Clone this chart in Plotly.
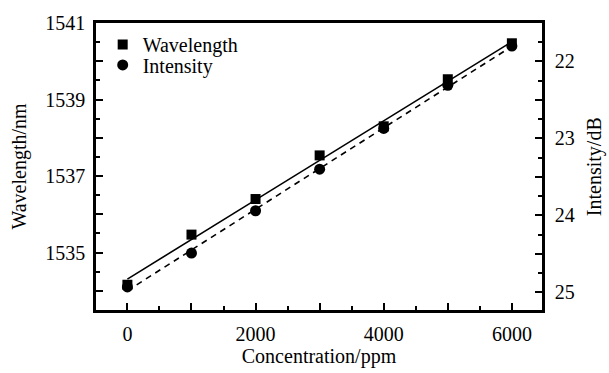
import numpy as np
import plotly.graph_objects as go

concentration = [0, 1000, 2000, 3000, 4000, 5000, 6000]
wavelength = [1534.16, 1535.47, 1536.40, 1537.54, 1538.30, 1539.53, 1540.47]
intensity = [24.93, 24.49, 23.94, 23.40, 22.87, 22.31, 21.80]

x_tickvals = [0, 1000, 2000, 3000, 4000, 5000, 6000]
x_ticktext = ["0", "", "2000", "", "4000", "", "6000"]
y_tickvals = [1534, 1535, 1536, 1537, 1538, 1539, 1540, 1541]
y_ticktext = ["", "1535", "", "1537", "", "1539", "", "1541"]
y2_tickvals = [22, 22.5, 23, 23.5, 24, 24.5, 25]
y2_ticktext = ["22", "", "23", "", "24", "", "25"]

# linear fits drawn as lines
xw = np.array(concentration, dtype=float)
pw = np.polyfit(xw, np.array(wavelength), 1)
pi = np.polyfit(xw, np.array(intensity), 1)
xfit = np.array([concentration[0], concentration[-1]], dtype=float)

FONT = "Liberation Serif"
fig = go.Figure()

fig.add_trace(go.Scatter(x=xfit, y=np.polyval(pw, xfit), mode="lines",
                         line=dict(color="black", width=1.6), showlegend=False, yaxis="y"))
fig.add_trace(go.Scatter(x=concentration, y=wavelength, mode="markers", name="Wavelength",
                         marker=dict(symbol="square", size=10, color="black"), yaxis="y",
                         legend="legend"))
fig.add_trace(go.Scatter(x=xfit, y=np.polyval(pi, xfit), mode="lines",
                         line=dict(color="black", width=1.6, dash="6px,5px"), showlegend=False, yaxis="y2"))
fig.add_trace(go.Scatter(x=concentration, y=intensity, mode="markers", name="Intensity",
                         marker=dict(symbol="circle", size=11, color="black"), yaxis="y2",
                         legend="legend2"))

axis_common = dict(showline=True, linecolor="black", linewidth=2.5, ticks="inside",
                   tickwidth=2, tickcolor="black", ticklen=7, showgrid=False, zeroline=False,
                   tickfont=dict(family=FONT, size=20, color="black"))

leg_common = dict(xanchor="left", yanchor="middle", bgcolor="rgba(0,0,0,0)",
                  font=dict(family=FONT, size=20, color="black"), itemwidth=30)

fig.update_layout(
    width=609, height=373,
    margin=dict(l=96, r=67, t=19, b=59),
    paper_bgcolor="white", plot_bgcolor="white",
    font=dict(family=FONT, size=20, color="black"),
    xaxis=dict(range=[-490, 6470], tickmode="array", tickvals=x_tickvals, ticktext=x_ticktext,
               minor=dict(dtick=500, ticks="inside", ticklen=4, tickwidth=2, tickcolor="black"),
               mirror=True, ticklabelstandoff=4,
               title=dict(text="Concentration/ppm", font=dict(family=FONT, size=20), standoff=2),
               **axis_common),
    yaxis=dict(range=[1533.5, 1541], tickmode="array", tickvals=y_tickvals, ticktext=y_ticktext,
               minor=dict(dtick=0.5, ticks="inside", ticklen=4, tickwidth=2, tickcolor="black"),
               ticklabelstandoff=4,
               title=dict(text="Wavelength/nm", font=dict(family=FONT, size=20), standoff=14),
               **axis_common),
    yaxis2=dict(range=[25.23, 21.5], overlaying="y", side="right", anchor="x",
                tickmode="array", tickvals=y2_tickvals, ticktext=y2_ticktext,
                minor=dict(dtick=0.25, ticks="inside", ticklen=4, tickwidth=2, tickcolor="black"),
                ticklabelstandoff=6,
                **axis_common),
    legend=dict(x=0.015, y=0.925, **leg_common),
    legend2=dict(x=0.015, y=0.854, **leg_common),
    annotations=[dict(text="Intensity/dB", xref="paper", yref="paper", x=1.118, y=0.5,
                      xanchor="center", yanchor="middle", textangle=-90, showarrow=False,
                      font=dict(family=FONT, size=20, color="black"))],
)

fig.write_html("out.html")
